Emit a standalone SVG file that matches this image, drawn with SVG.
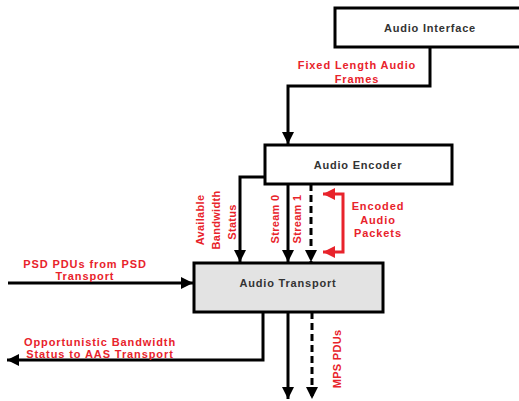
<svg xmlns="http://www.w3.org/2000/svg" width="519" height="401" viewBox="0 0 519 401">
<style>
.box{fill:#fff;stroke:#000;stroke-width:3}
.gray{fill:#e3e3e3}
.lbl{font-family:"Liberation Sans",Arial,sans-serif;font-weight:bold;font-size:11px;fill:#333;text-anchor:middle;letter-spacing:0.8px}
.red{font-family:"Liberation Sans",Arial,sans-serif;font-weight:bold;font-size:11px;fill:#e8232b;text-anchor:middle;letter-spacing:0.9px}
.rot{font-family:"Liberation Sans",Arial,sans-serif;font-weight:bold;font-size:11px;fill:#e8232b;text-anchor:middle;letter-spacing:0.3px}
.ln{fill:none;stroke:#000;stroke-width:3;marker-end:url(#ah)}
.dash{stroke-dasharray:7,4}
.rl{fill:none;stroke:#e8232b;stroke-width:3;marker-start:url(#ahr);marker-end:url(#ahr)}
</style>
<defs>
<marker id="ah" markerUnits="userSpaceOnUse" markerWidth="12" markerHeight="12" viewBox="0 0 12 12" refX="12" refY="6" orient="auto"><path d="M0,0 L12,6 L0,12 z" fill="#000"/></marker>
<marker id="ahr" markerUnits="userSpaceOnUse" markerWidth="12" markerHeight="12" viewBox="0 0 12 12" refX="12" refY="6" orient="auto-start-reverse"><path d="M0,0 L12,6 L0,12 z" fill="#e8232b"/></marker>
</defs>
<rect width="519" height="401" fill="#fff"/>
<g id="connectors">
<path class="ln" d="M430,47 V86 H288 V144"/>
<path class="ln" d="M265,177 H240 V262"/>
<path class="ln" d="M288,184 V262"/>
<path class="ln dash" d="M311,184 V262"/>
<path class="rl" d="M323,194 H343 V252 H323"/>
<path class="ln" d="M8,283 H193"/>
<path class="ln" d="M263,312 V360 H7"/>
<path class="ln" d="M288,312 V399"/>
<path class="ln dash" d="M312,312 V399"/>
</g>
<g id="audio-interface">
<rect class="box" x="335" y="8" width="190" height="39"/>
<text class="lbl" x="430" y="32">Audio Interface</text>
</g>
<g id="audio-encoder">
<rect class="box" x="265" y="145" width="187" height="39"/>
<text class="lbl" x="358" y="169">Audio Encoder</text>
</g>
<g id="audio-transport">
<rect class="box gray" x="194" y="263" width="189" height="49"/>
<text class="lbl" x="288" y="287">Audio Transport</text>
</g>
<g id="labels">
<text class="red" x="357" y="69">Fixed Length Audio</text>
<text class="red" x="357" y="83">Frames</text>
<text class="red" x="378" y="210">Encoded</text>
<text class="red" x="378" y="224">Audio</text>
<text class="red" x="378" y="237">Packets</text>
<text class="red" x="85" y="268">PSD PDUs from PSD</text>
<text class="red" x="85" y="280">Transport</text>
<text class="red" x="100" y="346">Opportunistic Bandwidth</text>
<text class="red" x="100" y="358">Status to AAS Transport</text>
<text class="rot" transform="translate(204,220) rotate(-90)">Available</text>
<text class="rot" transform="translate(220,220) rotate(-90)">Bandwidth</text>
<text class="rot" transform="translate(236,222) rotate(-90)">Status</text>
<text class="rot" transform="translate(279,219) rotate(-90)">Stream 0</text>
<text class="rot" transform="translate(301,219) rotate(-90)">Stream 1</text>
<text class="rot" transform="translate(341,359) rotate(-90)">MPS PDUs</text>
</g>
</svg>
